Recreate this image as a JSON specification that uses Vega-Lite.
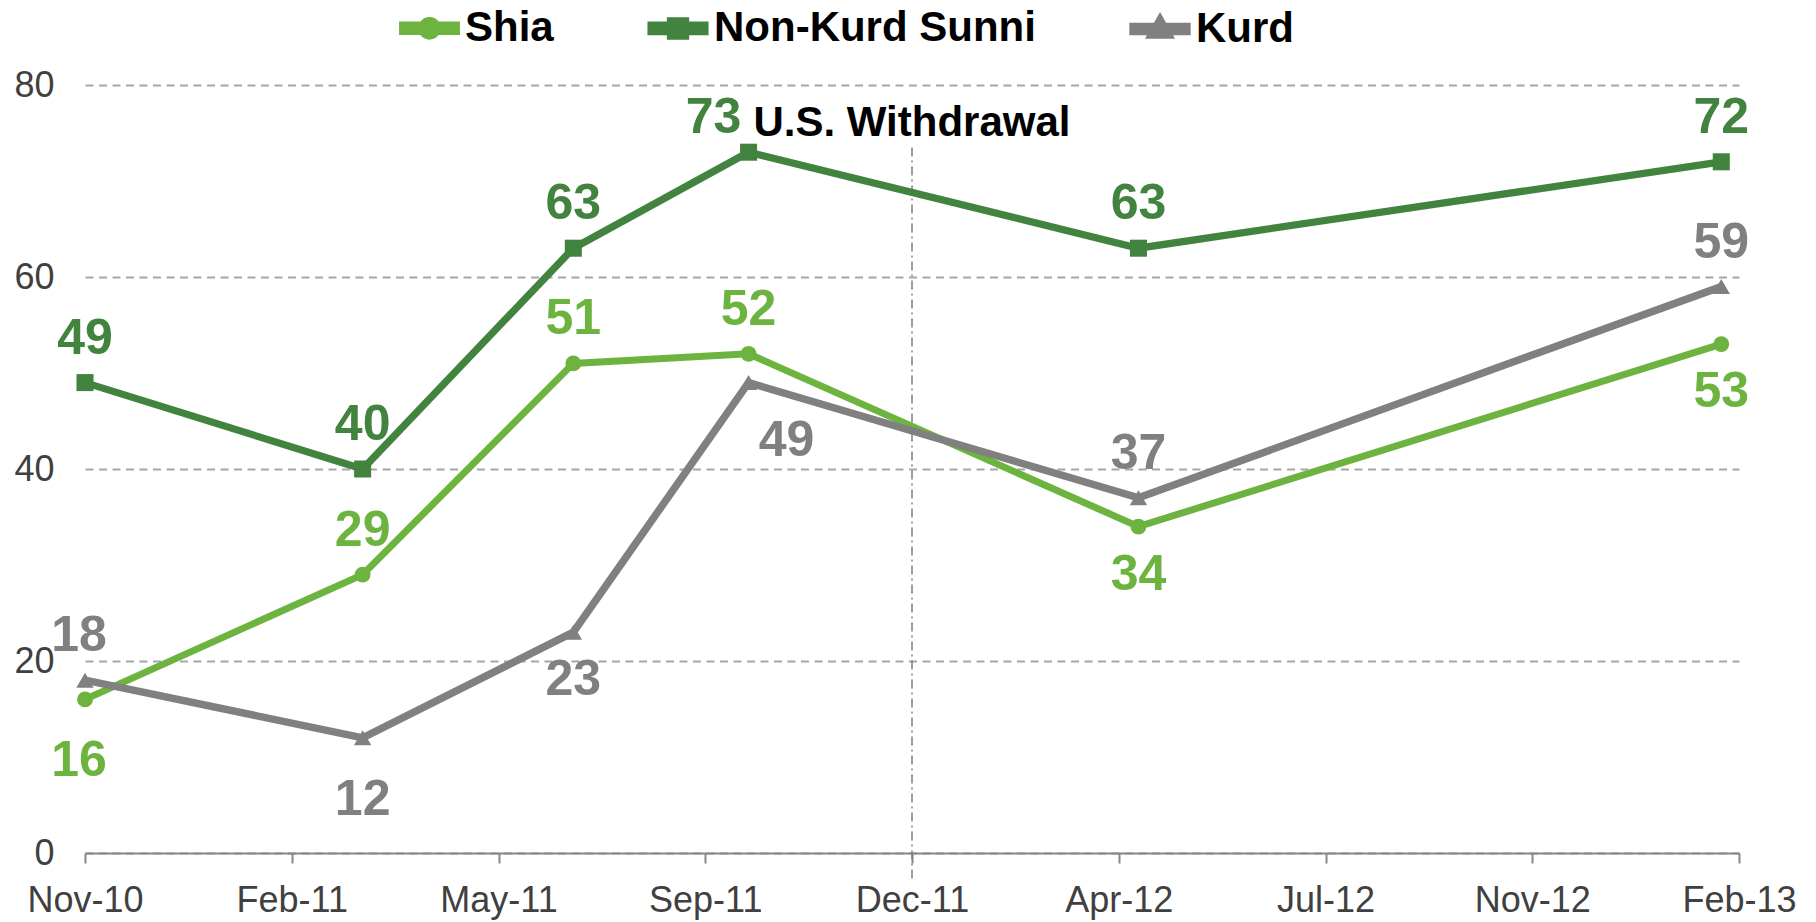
{
  "$schema": "https://vega.github.io/schema/vega-lite/v6.json",
  "width": 1654,
  "height": 768,
  "autosize": {"type": "none"},
  "padding": {"left": 85, "top": 85, "right": 77, "bottom": 69},
  "config": {
    "font": "Liberation Sans",
    "view": {"stroke": null},
    "text": {"font": "Liberation Sans"}
  },
  "datasets": {
    "survey": [
      {"series": "Shia", "date": "2010-11-01", "value": 16},
      {"series": "Shia", "date": "2011-03-22", "value": 29},
      {"series": "Shia", "date": "2011-07-07", "value": 51},
      {"series": "Shia", "date": "2011-10-04", "value": 52},
      {"series": "Shia", "date": "2012-04-19", "value": 34},
      {"series": "Shia", "date": "2013-02-09", "value": 53},
      {"series": "Non-Kurd Sunni", "date": "2010-11-01", "value": 49},
      {"series": "Non-Kurd Sunni", "date": "2011-03-22", "value": 40},
      {"series": "Non-Kurd Sunni", "date": "2011-07-07", "value": 63},
      {"series": "Non-Kurd Sunni", "date": "2011-10-04", "value": 73},
      {"series": "Non-Kurd Sunni", "date": "2012-04-19", "value": 63},
      {"series": "Non-Kurd Sunni", "date": "2013-02-09", "value": 72},
      {"series": "Kurd", "date": "2010-11-01", "value": 18},
      {"series": "Kurd", "date": "2011-03-22", "value": 12},
      {"series": "Kurd", "date": "2011-07-07", "value": 23},
      {"series": "Kurd", "date": "2011-10-04", "value": 49},
      {"series": "Kurd", "date": "2012-04-19", "value": 37},
      {"series": "Kurd", "date": "2013-02-09", "value": 59}
    ],
    "events": [
      {"date": "2011-12-26", "label": "U.S. Withdrawal"}
    ]
  },
  "layer": [
    {
      "data": {"name": "events"},
      "mark": {"type": "rule", "color": "#7F7F7F", "strokeWidth": 1.5, "strokeDash": [9, 4, 2, 4]},
      "encoding": {
        "x": {
          "field": "date", "type": "temporal",
          "scale": {"type": "utc", "domain": [{"year": 2010, "month": 11, "date": 1, "utc": true}, {"year": 2013, "month": 2, "date": 18, "utc": true}]},
          "axis": {
            "title": null,
            "values": [
              {"year": 2010, "month": 11, "date": 1, "utc": true},
              {"year": 2011, "month": 2, "date": 14, "utc": true},
              {"year": 2011, "month": 5, "date": 30, "utc": true},
              {"year": 2011, "month": 9, "date": 12, "utc": true},
              {"year": 2011, "month": 12, "date": 26, "utc": true},
              {"year": 2012, "month": 4, "date": 9, "utc": true},
              {"year": 2012, "month": 7, "date": 23, "utc": true},
              {"year": 2012, "month": 11, "date": 5, "utc": true},
              {"year": 2013, "month": 2, "date": 18, "utc": true}
            ],
            "labelExpr": "utcFormat(datum.value, '%b-%y')",
            "labelFontSize": 36,
            "labelColor": "#404040",
            "labelFont": "Liberation Sans",
            "labelPadding": 20,
            "labelOverlap": false,
            "labelFlush": false,
            "domainColor": "#868686",
            "domainWidth": 2,
            "tickColor": "#868686",
            "tickWidth": 2,
            "tickSize": 10,
            "grid": false
          }
        },
        "y": {
          "datum": 73.5, "type": "quantitative",
          "scale": {"domain": [0, 80], "nice": false, "zero": false},
          "axis": {
            "title": null,
            "values": [0, 20, 40, 60, 80],
            "labelFontSize": 36,
            "labelColor": "#404040",
            "labelFont": "Liberation Sans",
            "labelPadding": 31,
            "domain": false,
            "ticks": false,
            "grid": true,
            "gridColor": "#A6A6A6",
            "gridWidth": 2,
            "gridDash": [8, 5.5]
          }
        },
        "y2": {"datum": -2.7}
      }
    },
    {
      "data": {"name": "events"},
      "mark": {"type": "text", "fontSize": 42, "fontWeight": "bold", "color": "#000000", "align": "center", "baseline": "middle"},
      "encoding": {
        "x": {"field": "date", "type": "temporal"},
        "y": {"datum": 76, "type": "quantitative"},
        "text": {"field": "label"}
      }
    },
    {
      "data": {"name": "survey"},
      "mark": {"type": "line"},
      "encoding": {
        "x": {"field": "date", "type": "temporal"},
        "y": {"field": "value", "type": "quantitative"},
        "color": {
          "field": "series", "type": "nominal",
          "scale": {"domain": ["Shia", "Non-Kurd Sunni", "Kurd"], "range": ["#6DB33F", "#41833F", "#808080"]},
          "legend": {
            "title": null,
            "orient": "none",
            "direction": "horizontal",
            "legendX": 314,
            "legendY": -88,
            "columnPadding": 82,
            "labelFontSize": 42,
            "labelFontWeight": "bold",
            "labelColor": "#000000",
            "labelFont": "Liberation Sans",
            "labelOffset": 5,
            "symbolSize": 2900,
            "symbolStrokeWidth": 0,
            "labelLimit": 0,
            "encode": {
              "symbols": {
                "update": {
                  "shape": {"signal": "datum.value === 'Shia' ? 'M-1,-0.12H1V0.12H-1Z M-0.29,0A0.29,0.29 0 1,1 0.29,0A0.29,0.29 0 1,1 -0.29,0Z' : (datum.value === 'Kurd' ? 'M-1,-0.09H1V0.09H-1Z M0,-0.35L0.32,0.22L-0.32,0.22Z' : 'M-1,-0.12H1V0.12H-1Z M-0.28,-0.28H0.28V0.28H-0.28Z')"},
                  "fill": {"scale": "color", "field": "value"},
                  "fillOpacity": {"value": 1},
                  "stroke": {"value": "transparent"},
                  "strokeWidth": {"value": 0},
                  "size": {"value": 2900}
                }
              }
            }
          }
        },
        "strokeWidth": {
          "field": "series", "type": "nominal",
          "scale": {"domain": ["Shia", "Non-Kurd Sunni", "Kurd"], "range": [7, 7.5, 4.5]},
          "legend": null
        }
      }
    },
    {
      "data": {"name": "survey"},
      "transform": [{"filter": "datum.series === 'Shia'"}],
      "mark": {"type": "point", "filled": true, "opacity": 1, "shape": "circle", "size": 250},
      "encoding": {
        "x": {"field": "date", "type": "temporal"},
        "y": {"field": "value", "type": "quantitative"},
        "color": {"field": "series", "type": "nominal"}
      }
    },
    {
      "data": {"name": "survey"},
      "transform": [{"filter": "datum.series === 'Non-Kurd Sunni'"}],
      "mark": {"type": "point", "filled": true, "opacity": 1, "shape": "square", "size": 290},
      "encoding": {
        "x": {"field": "date", "type": "temporal"},
        "y": {"field": "value", "type": "quantitative"},
        "color": {"field": "series", "type": "nominal"}
      }
    },
    {
      "data": {"name": "survey"},
      "transform": [{"filter": "datum.series === 'Kurd'"}],
      "mark": {"type": "point", "filled": true, "opacity": 1, "shape": "triangle-up", "size": 300},
      "encoding": {
        "x": {"field": "date", "type": "temporal"},
        "y": {"field": "value", "type": "quantitative"},
        "color": {"field": "series", "type": "nominal"}
      }
    },
    {
      "data": {"name": "survey"},
      "transform": [{"filter": "(datum.series === 'Non-Kurd Sunni' && datum.value !== 73) || (datum.series === 'Shia' && (datum.value === 29 || datum.value === 51 || datum.value === 52)) || (datum.series === 'Kurd' && (datum.value === 37 || datum.value === 59))"}],
      "mark": {"type": "text", "fontSize": 50, "fontWeight": "bold", "align": "center", "baseline": "middle", "dy": -44},
      "encoding": {
        "x": {"field": "date", "type": "temporal"},
        "y": {"field": "value", "type": "quantitative"},
        "text": {"field": "value"},
        "color": {"field": "series", "type": "nominal"}
      }
    },
    {
      "data": {"name": "survey"},
      "transform": [{"filter": "datum.series === 'Kurd' && datum.value === 18"}],
      "mark": {"type": "text", "fontSize": 50, "fontWeight": "bold", "align": "center", "baseline": "middle", "dx": -6, "dy": -44},
      "encoding": {
        "x": {"field": "date", "type": "temporal"},
        "y": {"field": "value", "type": "quantitative"},
        "text": {"field": "value"},
        "color": {"field": "series", "type": "nominal"}
      }
    },
    {
      "data": {"name": "survey"},
      "transform": [{"filter": "(datum.series === 'Shia' && (datum.value === 34 || datum.value === 53)) || (datum.series === 'Kurd' && datum.value === 23)"}],
      "mark": {"type": "text", "fontSize": 50, "fontWeight": "bold", "align": "center", "baseline": "middle", "dy": 48},
      "encoding": {
        "x": {"field": "date", "type": "temporal"},
        "y": {"field": "value", "type": "quantitative"},
        "text": {"field": "value"},
        "color": {"field": "series", "type": "nominal"}
      }
    },
    {
      "data": {"name": "survey"},
      "transform": [{"filter": "datum.series === 'Kurd' && datum.value === 12"}],
      "mark": {"type": "text", "fontSize": 50, "fontWeight": "bold", "align": "center", "baseline": "middle", "dy": 62},
      "encoding": {
        "x": {"field": "date", "type": "temporal"},
        "y": {"field": "value", "type": "quantitative"},
        "text": {"field": "value"},
        "color": {"field": "series", "type": "nominal"}
      }
    },
    {
      "data": {"name": "survey"},
      "transform": [{"filter": "datum.series === 'Shia' && datum.value === 16"}],
      "mark": {"type": "text", "fontSize": 50, "fontWeight": "bold", "align": "center", "baseline": "middle", "dx": -6, "dy": 62},
      "encoding": {
        "x": {"field": "date", "type": "temporal"},
        "y": {"field": "value", "type": "quantitative"},
        "text": {"field": "value"},
        "color": {"field": "series", "type": "nominal"}
      }
    },
    {
      "data": {"name": "survey"},
      "transform": [{"filter": "datum.series === 'Non-Kurd Sunni' && datum.value === 73"}],
      "mark": {"type": "text", "fontSize": 50, "fontWeight": "bold", "align": "center", "baseline": "middle", "dx": -35, "dy": -34},
      "encoding": {
        "x": {"field": "date", "type": "temporal"},
        "y": {"field": "value", "type": "quantitative"},
        "text": {"field": "value"},
        "color": {"field": "series", "type": "nominal"}
      }
    },
    {
      "data": {"name": "survey"},
      "transform": [{"filter": "datum.series === 'Kurd' && datum.value === 49"}],
      "mark": {"type": "text", "fontSize": 50, "fontWeight": "bold", "align": "center", "baseline": "middle", "dx": 38, "dy": 58},
      "encoding": {
        "x": {"field": "date", "type": "temporal"},
        "y": {"field": "value", "type": "quantitative"},
        "text": {"field": "value"},
        "color": {"field": "series", "type": "nominal"}
      }
    }
  ]
}
